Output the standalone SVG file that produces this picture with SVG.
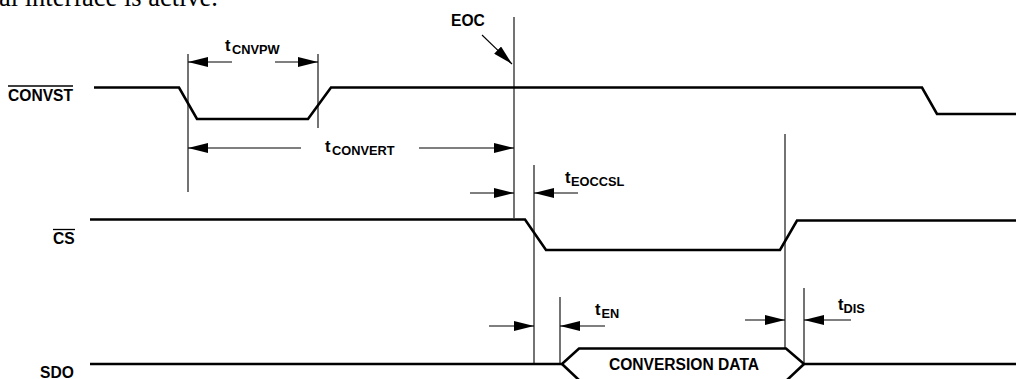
<svg xmlns="http://www.w3.org/2000/svg" width="1032" height="379" viewBox="0 0 1032 379">
<style>
.wave{fill:none;stroke:#000;stroke-width:2.6;stroke-linejoin:miter}
.guide{stroke:#000;stroke-width:1.1;fill:none}
.arr{stroke:#000;stroke-width:1.1;fill:none;marker-end:url(#ah)}
.lbl{font-family:"Liberation Sans",Arial,sans-serif;font-weight:bold;font-size:15.6px;fill:#000}
.tm{font-family:"Liberation Sans",Arial,sans-serif;font-weight:bold;font-size:16.5px;fill:#000}
.sub{font-size:12.8px}
.ol{stroke:#000;stroke-width:1.3}
.body{font-family:"Liberation Serif","Times New Roman",serif;font-size:27.5px;fill:#000}
</style>
<defs>
<marker id="ah" markerUnits="userSpaceOnUse" markerWidth="20" markerHeight="10" refX="20" refY="5" orient="auto" viewBox="0 0 20 10">
<path d="M0,0 L20,5 L0,10 z" fill="#000"/>
</marker>
</defs>
<text class="body" x="-1" y="5.5" textLength="219" lengthAdjust="spacingAndGlyphs">al interface is active.</text>
<g id="labels">
<g id="lbl-convst"><text class="lbl" x="8" y="100.5">CONVST</text><line class="ol" x1="8" y1="86" x2="73" y2="86"/></g>
<g id="lbl-cs"><text class="lbl" x="53" y="244">CS</text><line class="ol" x1="53" y1="229.5" x2="75" y2="229.5"/></g>
<g id="lbl-sdo"><text class="lbl" x="40" y="378">SDO</text></g>
<g id="lbl-eoc"><text class="lbl" x="451" y="26">EOC</text></g>
</g>
<g id="waveforms">
<path id="convst" class="wave" d="M94,87.5 L179,87.5 L197,119 L308,119 L331,87.5 L922,87.5 L937,114 L1016,114"/>
<path id="cs" class="wave" d="M90,219.5 L525,219.5 L546,250 L780,250 L797,220.5 L1016,220.5"/>
<g id="sdo">
<path class="wave" d="M90,364 L562,364 L579,348.5 L786,348.5 L804,364 L1016,364"/>
<path class="wave" d="M562,364 L580,381"/>
<path class="wave" d="M804,364 L786,381"/>
<text class="lbl" x="684" y="369.5" text-anchor="middle">CONVERSION DATA</text>
</g>
</g>
<g id="connectors">
<line class="guide" x1="188" y1="54" x2="188" y2="192"/>
<line class="guide" x1="318" y1="54" x2="318" y2="128"/>
<line class="guide" x1="514" y1="17" x2="514" y2="218"/>
<line class="guide" x1="534" y1="165" x2="534" y2="364"/>
<line class="guide" x1="560" y1="297" x2="560" y2="364"/>
<line class="guide" x1="785" y1="134" x2="785" y2="348"/>
<line class="guide" x1="804" y1="288" x2="804" y2="364"/>
<line class="arr" x1="232" y1="62" x2="188" y2="62"/>
<line class="arr" x1="275" y1="62" x2="318" y2="62"/>
<line class="arr" x1="301" y1="148" x2="188" y2="148"/>
<line class="arr" x1="419" y1="148" x2="514" y2="148"/>
<line class="arr" x1="482" y1="35" x2="512" y2="64"/>
<line class="arr" x1="470" y1="193" x2="514" y2="193"/>
<line class="arr" x1="578" y1="193" x2="534" y2="193"/>
<line class="arr" x1="489" y1="326" x2="534" y2="326"/>
<line class="arr" x1="605" y1="326" x2="560" y2="326"/>
<line class="arr" x1="745" y1="320" x2="785" y2="320"/>
<line class="arr" x1="851" y1="320" x2="804" y2="320"/>
</g>
<g id="timing-labels">
<text class="tm" x="225" y="51">t<tspan class="sub" dx="1.5" dy="3">CNVPW</tspan></text>
<text class="tm" x="325" y="152">t<tspan class="sub" dx="1.5" dy="2.5">CONVERT</tspan></text>
<text class="tm" x="565" y="183">t<tspan class="sub" dx="0.5" dy="3">EOCCSL</tspan></text>
<text class="tm" x="595" y="314.5">t<tspan class="sub" dx="1" dy="3">EN</tspan></text>
<text class="tm" x="838" y="310">t<tspan class="sub" dx="0" dy="3">DIS</tspan></text>
</g>
</svg>
